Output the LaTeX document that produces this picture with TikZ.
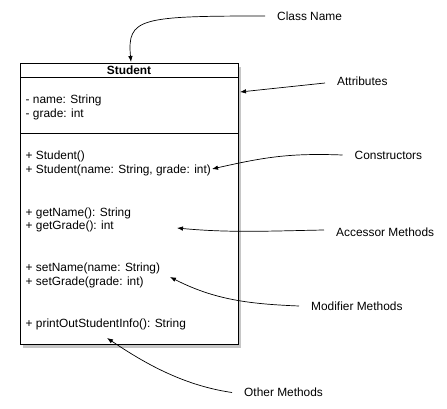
\documentclass[tikz,border=0pt]{standalone}
\usepackage{fontspec}
\setmainfont{Liberation Sans}
\usetikzlibrary{arrows.meta,shadows}

\tikzset{
  member/.style={anchor=base west, inner sep=0pt, font=\fontsize{11.9}{14}\selectfont},
  tag/.style={anchor=west, inner xsep=12pt, inner ysep=0pt, font=\fontsize{11.9}{14}\selectfont},
  pointer/.style={-{Latex[length=6pt,width=4.5pt]}, line width=0.7pt},
}

\begin{document}
\begin{tikzpicture}[x=1pt,y=-1pt]
  \useasboundingbox (0,0) rectangle (447,409);
  % 类框与阴影
  \draw[line width=1pt, fill=white, drop shadow={shadow xshift=3pt, shadow yshift=-3.5pt, opacity=0.45}] (20,64) rectangle (238,344);
  \draw[line width=1pt] (20,78) -- (238,78);
  \draw[line width=1pt] (20,134) -- (238,134);
  % 类名
  \node[anchor=base, inner sep=0pt, font=\fontsize{11.9}{14}\selectfont\bfseries] (title) at (129,75) {Student};
  % 属性
  \node[member] (attrA) at (25.5,104) {- name: String};
  \node[member] (attrB) at (25.5,117.5) {- grade: int};
  % 构造方法
  \node[member] (ctorA) at (25.5,159.5) {+ Student()};
  \node[member] (ctorB) at (25.5,173) {+ Student(name: String, grade: int)};
  % 访问方法
  \node[member] (getA) at (25.5,216) {+ getName(): String};
  \node[member] (getB) at (25.5,229.5) {+ getGrade(): int};
  % 修改方法
  \node[member] (setA) at (25.5,271.7) {+ setName(name: String)};
  \node[member] (setB) at (25.5,285) {+ setGrade(grade: int)};
  % 其他方法
  \node[member] (other) at (25.5,327.3) {+ printOutStudentInfo(): String};
  % 箭头终点
  \coordinate (clsTip) at (131,62);
  \coordinate (attrTip) at (240,92);
  \coordinate (ctorTip) at (212,169);
  \coordinate (getTip) at (177,228);
  \coordinate (setTip) at (170,277);
  \coordinate (otherTip) at (107,338);
  % 说明文字
  \node[tag] (clsName) at (265,16) {Class Name};
  \node[tag] (attrName) at (325,81) {Attributes};
  \node[tag] (ctorName) at (342.5,155) {Constructors};
  \node[tag] (getName) at (324,232) {Accessor Methods};
  \node[tag] (setName) at (299,306) {Modifier Methods};
  \node[tag] (otherName) at (232,392.5) {Other Methods};
  % 指示箭头
  \draw[pointer] (clsName.west) .. controls (140,16) and (127,18) .. (clsTip);
  \draw[pointer] (attrName.west) ++(0,2) -- (attrTip);
  \draw[pointer] (ctorName.west) .. controls (290,153) and (265,157) .. (ctorTip);
  \draw[pointer] (getName.west) ++(0,-2) .. controls (270,231) and (230,233) .. (getTip);
  \draw[pointer] (setName.west) .. controls (250,304) and (215,300) .. (setTip);
  \draw[pointer] (otherName.west) .. controls (180,385) and (140,360) .. (otherTip);
\end{tikzpicture}
\end{document}
